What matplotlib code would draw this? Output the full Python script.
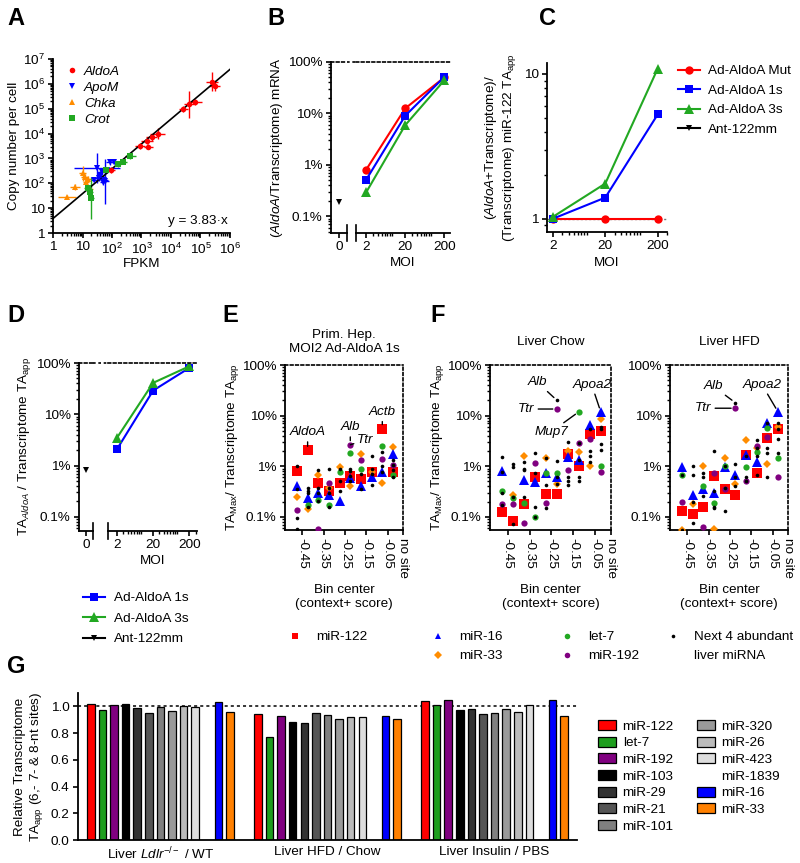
import numpy as np
import matplotlib
matplotlib.use('Agg')
import matplotlib.pyplot as plt
from matplotlib.lines import Line2D
from matplotlib.patches import Patch
from matplotlib.ticker import FuncFormatter, LogLocator, NullFormatter, NullLocator

plt.rcParams['font.family'] = ['Liberation Sans', 'DejaVu Sans']
plt.rcParams['mathtext.fontset'] = 'custom'
plt.rcParams['mathtext.rm'] = 'Liberation Sans'
plt.rcParams['mathtext.it'] = 'Liberation Sans:italic'
plt.rcParams['mathtext.bf'] = 'Liberation Sans:bold'
plt.rcParams['font.size'] = 9.7
plt.rcParams['axes.linewidth'] = 1.3
for a in ('xtick', 'ytick'):
    plt.rcParams[a + '.major.width'] = 1.2
    plt.rcParams[a + '.minor.width'] = 1.0
    plt.rcParams[a + '.major.size'] = 3.5
    plt.rcParams[a + '.minor.size'] = 2.0
    plt.rcParams[a + '.major.pad'] = 2.5

nan = np.nan

# ---------------- data ----------------
# A: copy number vs FPKM (x/y error given as multiplicative factors)
aldoa_fpkm = [2.4e5, 3.0e5, 6.5e4, 4.0e4, 2.6e4, 3.5e3, 2.2e3, 1.5e3, 9.0e2, 1.7e3, 95]
aldoa_copy = [1.2e6, 8.5e5, 1.9e5, 1.5e5, 9.5e4, 1.0e4, 7.0e3, 5.0e3, 3.2e3, 3.0e3, 350]
aldoa_xf = [1.6, 1.5, 1.7, 1.5, 1.4, 1.8, 1.5, 1.6, 1.5, 1.4, 1.3]
aldoa_yf = [2.4, 1.6, 1.3, 3.6, 1.3, 1.6, 1.4, 1.3, 1.3, 1.3, 1.3]
apom_fpkm = [30, 45, 60, 25, 50, 85, 120, 40, 70, 35, 55]
apom_copy = [400, 280, 120, 140, 110, 700, 720, 200, 330, 160, 130]
apom_xf = [6.0, 1.4, 1.3, 1.3, 1.3, 1.4, 1.3, 1.3, 1.5, 1.3, 1.3]
apom_yf = [4.0, 1.3, 8.0, 1.3, 1.3, 1.3, 1.2, 1.5, 1.3, 1.3, 1.3]
chka_fpkm = [3.0, 5.5, 10, 13, 15, 18, 12]
chka_copy = [27, 72, 250, 110, 150, 60, 180]
chka_xf = [2.0, 1.5, 1.3, 1.3, 1.3, 1.3, 1.3]
chka_yf = [1.2, 1.3, 2.0, 1.5, 1.3, 1.3, 1.3]
crot_fpkm = [15, 18, 20, 65, 230, 420, 160]
crot_copy = [65, 45, 25, 330, 750, 1200, 600]
crot_xf = [1.3, 1.3, 1.2, 1.3, 1.4, 1.5, 1.3]
crot_yf = [1.3, 1.5, 7.0, 1.3, 1.3, 1.3, 1.3]
fit_slope = 3.83

# B, C, D: MOI series
moi = [2, 20, 200]
b_mut = [0.8, 12.5, 50]
b_1s = [0.51, 9.0, 51]
b_3s = [0.29, 5.9, 44]
b_ant = [0.19]
c_mut = [1.0, 1.0, 1.0]
c_1s = [1.0, 1.40, 5.26]
c_3s = [1.03, 1.75, 10.9]
d_1s = [2.1, 29, 80]
d_3s = [3.5, 41, 86]
d_ant = [0.81]

# E/F: TA_Max / transcriptome TA_app (%) per context+ bin
bins = [-0.475, -0.425, -0.375, -0.325, -0.275, -0.225, -0.175, -0.125, -0.075, -0.025]
bin_ticks = [-0.45, -0.35, -0.25, -0.15, -0.05, 0.022]
bin_labels = ['-0.45', '-0.35', '-0.25', '-0.15', '-0.05', 'no site']

hep_mir122 = [0.82, 2.05, 0.47, 0.33, 0.47, 0.63, 0.55, 0.78, 5.5, 0.78]
hep_mir16 = [0.40, 0.24, 0.30, 0.27, 0.21, 0.58, 0.41, 0.62, 0.78, 1.75]
hep_mir33 = [0.25, 0.14, 0.68, 0.38, 0.95, 0.40, 1.75, 0.76, 0.47, 2.4]
hep_let7 = [nan, 0.17, 0.22, 0.17, 0.76, 1.8, 0.88, nan, 2.5, 0.66]
hep_mir192 = [0.135, nan, 0.058, 0.46, nan, 2.65, 1.3, nan, 1.4, 1.05]
hep_next4 = [[1.03, 0.36, 0.097, 0.057], [0.38, 0.33, 0.29, 0.16], [0.83, 0.38, 0.30, 0.21],
             [0.89, 0.38, 0.30, 0.155], [0.89, 0.50, 0.33, nan], [0.89, 0.80, 0.65, 0.50],
             [0.70, 0.36, nan, nan], [1.6, 0.88, 0.70, 0.43], [1.9, 1.03, 0.76, nan],
             [1.3, 1.05, 0.83, 0.60]]

chow_mir122 = [0.125, 0.083, 0.18, 0.62, 0.28, 0.28, 1.78, 1.0, 4.4, 4.9]
chow_mir16 = [0.80, nan, 0.53, 0.49, 0.72, 0.60, 1.5, 1.3, 6.5, 11.9]
chow_mir33 = [nan, 0.27, 1.58, nan, 1.43, 0.45, 2.0, 1.9, 1.0, 8.4]
chow_let7 = [0.32, 0.24, 0.19, 0.098, 0.72, 0.72, nan, 11.9, nan, 1.0]
chow_mir192 = [0.18, 0.18, 0.076, 1.14, 0.19, 13.5, 0.83, 2.9, 3.5, 0.78]
chow_next4 = [[1.49, 0.78, 0.30, 0.17], [1.1, 0.98, 0.25, 0.071], [1.2, 0.9, 0.85, 0.25],
              [1.8, 0.75, 0.155, 0.098], [1.43, 0.42, 0.15, nan], [20.0, 1.25, 0.45, 0.60],
              [3.0, 0.60, 0.50, 0.42], [2.9, 1.3, 0.60, 0.50], [5.5, 2.0, 1.6, 1.2],
              [6.0, 5.5, 2.7, 2.1]]

hfd_mir122 = [0.13, 0.115, 0.16, 0.64, 0.35, 0.27, 1.7, 0.75, 3.6, 5.4]
hfd_mir16 = [0.97, 0.27, 0.36, 0.30, 0.97, 0.66, 1.7, 1.2, 7.2, 11.9]
hfd_mir33 = [0.056, 0.18, 1.0, 0.057, 1.48, 0.45, 3.3, 2.3, 1.1, 6.0]
hfd_let7 = [0.68, nan, 0.40, 0.19, 1.0, nan, 0.95, 1.9, 5.6, 1.44]
hfd_mir192 = [0.20, nan, 0.063, 0.72, 0.36, 14.0, 0.50, 2.5, 3.7, 0.60]
hfd_next4 = [[0.66, 0.056, nan, nan], [1.0, 0.67, 0.20, 0.075], [0.72, 0.62, 0.26, nan],
             [2.0, 0.33, 0.15, 0.16], [1.0, 0.38, 0.13, nan], [18.0, 1.1, 0.62, 0.40],
             [0.62, 0.50, 1.6, nan], [3.3, 2.3, 1.6, 0.66], [7.2, 2.3, 1.8, 0.60],
             [7.0, 5.5, 3.5, 1.8]]

# G: relative transcriptome TA_app
g_mirnas = ['miR-122', 'let-7', 'miR-192', 'miR-103', 'miR-29', 'miR-21', 'miR-101',
            'miR-320', 'miR-26', 'miR-423', 'miR-1839', 'miR-16', 'miR-33']
g_colors = ['#ff0000', '#1e9e1e', '#800080', '#000000', '#333333', '#555555', '#808080',
            '#9a9a9a', '#bbbbbb', '#dddddd', 'none', '#0000ff', '#ff8000']
g_groups = [r'Liver $\mathit{Ldlr}^{-/-}$ / WT', 'Liver HFD / Chow', 'Liver Insulin / PBS']
g_ldlr = [1.02, 0.975, 1.007, 1.02, 0.988, 0.953, 0.995, 0.965, 1.005, 0.995, nan, 1.03, 0.955]
g_hfd = [0.945, 0.771, 0.925, 0.883, 0.878, 0.953, 0.938, 0.905, 0.923, 0.923, nan, 0.93, 0.908]
g_ins = [1.037, 1.01, 1.045, 0.97, 0.983, 0.94, 0.95, 0.983, 0.958, 1.012, nan, 1.045, 0.928]

RED, BLUE, GREEN, ORANGE, PURPLE = '#ff0000', '#0000ff', '#22a822', '#ff8c00', '#800080'

# ---------------- figure ----------------
W, H = 800, 863
fig = plt.figure(figsize=(W / 100, H / 100), dpi=100)


def px_axes(l, t, r, b):
    return fig.add_axes([l / W, 1 - b / H, (r - l) / W, (b - t) / H])


def clean(ax):
    ax.spines['top'].set_visible(False)
    ax.spines['right'].set_visible(False)


pct = FuncFormatter(lambda v, p: '{:g}%'.format(v))


def pow10(v, p):
    e = int(round(np.log10(v)))
    return '1' if e == 0 else ('10' if e == 1 else r'$10^{%d}$' % e)


def panel_label(x, y, s):
    fig.text(x / W, 1 - y / H, s, fontsize=17, fontweight='bold', va='baseline', ha='left')


def xbreak(ax, x):
    ax.plot([x, x], [-0.045, 0.045], color='k', lw=1.2, transform=ax.transAxes, clip_on=False)


# ---- A ----
axA = px_axes(53, 59, 230, 233)
clean(axA)
axA.set_xscale('log')
axA.set_yscale('log')
series_a = [('AldoA', RED, 'o', aldoa_fpkm, aldoa_copy, aldoa_xf, aldoa_yf),
            ('ApoM', BLUE, 'v', apom_fpkm, apom_copy, apom_xf, apom_yf),
            ('Chka', ORANGE, '^', chka_fpkm, chka_copy, chka_xf, chka_yf),
            ('Crot', GREEN, 's', crot_fpkm, crot_copy, crot_xf, crot_yf)]
handles_a = []
for name, col, mk, fx, cy, xf, yf in series_a:
    fx, cy, xf, yf = map(np.array, (fx, cy, xf, yf))
    axA.errorbar(fx, cy, xerr=[fx - fx / xf, fx * xf - fx], yerr=[cy - cy / yf, cy * yf - cy],
                 fmt=mk, color=col, ms=4, mew=0, capsize=2, elinewidth=1, capthick=1)
    handles_a.append(Line2D([], [], ls='none', marker=mk, color=col, ms=4, mew=0, label=name))
xs = np.array([1.0, 1e6])
axA.plot(xs, fit_slope * xs, 'k-', lw=1.2)
axA.set_xlim(1, 1e6)
axA.set_ylim(1, 1e7)
axA.set_xticks([10 ** k for k in range(7)])
axA.set_yticks([10 ** k for k in range(8)])
axA.xaxis.set_major_formatter(FuncFormatter(pow10))
axA.yaxis.set_major_formatter(FuncFormatter(pow10))
axA.xaxis.set_minor_locator(LogLocator(subs=range(2, 10), numticks=20))
axA.yaxis.set_minor_locator(LogLocator(subs=range(2, 10), numticks=20))
axA.xaxis.set_minor_formatter(NullFormatter())
axA.yaxis.set_minor_formatter(NullFormatter())
axA.set_xlabel('FPKM', labelpad=1)
axA.set_ylabel('Copy number per cell', labelpad=2)
axA.text(0.985, 0.07, u'y = 3.83\u00b7x', transform=axA.transAxes, ha='right', va='center')
axA.legend(handles=handles_a, loc='upper left', frameon=False, prop={'style': 'italic', 'size': 9.7},
           handletextpad=0.4, labelspacing=0.25, handlelength=1.0, borderaxespad=0.1,
           bbox_to_anchor=(0.03, 1.0))


# ---- helpers for broken MOI axes ----
def moi_axes(l0, r0, l1, r1, t, b, ylim, xlim1):
    ax0 = px_axes(l0, t, r0, b)
    ax1 = px_axes(l1, t, r1, b)
    for ax in (ax0, ax1):
        clean(ax)
        ax.set_yscale('log')
        ax.set_ylim(*ylim)
        ax.spines['top'].set_visible(True)
        ax.spines['top'].set_linestyle((0, (1.6, 1.6)))
        ax.spines['top'].set_linewidth(1.2)
    ax0.set_xlim(-1, 1)
    ax0.set_xticks([0])
    ax0.set_xticklabels(['0'])
    ax0.set_yticks([0.1, 1, 10, 100])
    ax0.yaxis.set_major_formatter(pct)
    ax0.yaxis.set_minor_locator(LogLocator(subs=range(2, 10), numticks=20))
    ax0.yaxis.set_minor_formatter(NullFormatter())
    ax1.spines['left'].set_visible(False)
    ax1.yaxis.set_major_locator(NullLocator())
    ax1.yaxis.set_minor_locator(NullLocator())
    ax1.set_xscale('log')
    ax1.set_xlim(*xlim1)
    ax1.set_xticks(moi)
    ax1.set_xticklabels([str(m) for m in moi])
    ax1.xaxis.set_minor_locator(LogLocator(subs=range(2, 10), numticks=20))
    ax1.xaxis.set_minor_formatter(NullFormatter())
    xbreak(ax0, 1.0)
    xbreak(ax1, 0.0)
    fig.add_artist(Line2D([r0 / W, l1 / W], [1 - t / H, 1 - t / H], color='k', lw=1.2,
                          ls=(0, (1.6, 1.6))))
    ax1.set_xlabel('MOI', labelpad=3)
    return ax0, ax1


# ---- B ----
axB0, axB1 = moi_axes(331, 347, 356, 450, 62, 233, (0.047, 100), (1.1, 280))
axB1.plot(moi, b_mut, '-o', color=RED, lw=1.5, ms=6, mew=0)
axB1.plot(moi, b_1s, '-s', color=BLUE, lw=1.5, ms=6, mew=0)
axB1.plot(moi, b_3s, '-^', color=GREEN, lw=1.5, ms=6.5, mew=0)
axB0.plot([0], b_ant, 'v', color='k', ms=5, mew=0)
axB0.set_ylabel(r'($\mathit{AldoA}$/Transcriptome) mRNA', labelpad=2)

# ---- C ----
axC = px_axes(547, 63, 667, 232)
clean(axC)
axC.set_xscale('log')
axC.set_yscale('log')
axC.axhline(1, color='#777777', lw=1, ls=(0, (1.5, 1.5)), zorder=0)
lc = []
lc += axC.plot(moi, c_mut, '-o', color=RED, lw=1.5, ms=6, mew=0, label='Ad-AldoA Mut')
lc += axC.plot(moi, c_1s, '-s', color=BLUE, lw=1.5, ms=6, mew=0, label='Ad-AldoA 1s')
lc += axC.plot(moi, c_3s, '-^', color=GREEN, lw=1.5, ms=6.5, mew=0, label='Ad-AldoA 3s')
lc.append(Line2D([], [], color='k', marker='v', lw=1.5, ms=5, mew=0, label='Ant-122mm'))
axC.set_xlim(1.55, 300)
axC.set_ylim(0.81, 11.9)
axC.set_xticks(moi)
axC.set_xticklabels([str(m) for m in moi])
axC.xaxis.set_minor_locator(LogLocator(subs=range(2, 10), numticks=20))
axC.xaxis.set_minor_formatter(NullFormatter())
axC.set_yticks([1, 10])
axC.set_yticklabels(['1', '10'])
axC.yaxis.set_minor_formatter(NullFormatter())
axC.set_xlabel('MOI', labelpad=3)
axC.set_ylabel('($\\mathit{AldoA}$+Transcriptome)/\n(Transcriptome) miR-122 TA$_{\\mathrm{app}}$',
               labelpad=4)
fig.legend(handles=lc, loc='upper left', bbox_to_anchor=(678 / W, 1 - 65 / H), frameon=False,
           borderpad=0, borderaxespad=0, handlelength=1.6, handletextpad=0.6, labelspacing=0.52)

# ---- D ----
axD0, axD1 = moi_axes(79, 93, 108, 197, 363, 531, (0.053, 100), (1.12, 330))
ld = []
ld += axD1.plot(moi, d_1s, '-s', color=BLUE, lw=1.5, ms=6, mew=0, label='Ad-AldoA 1s')
ld += axD1.plot(moi, d_3s, '-^', color=GREEN, lw=1.5, ms=6.5, mew=0, label='Ad-AldoA 3s')
axD0.plot([0], d_ant, 'v', color='k', ms=5, mew=0)
ld.append(Line2D([], [], color='k', marker='v', lw=1.5, ms=5, mew=0, label='Ant-122mm'))
axD0.set_ylabel('TA$_{\\mathit{AldoA}}$ / Transcriptome TA$_{\\mathrm{app}}$', labelpad=2)
fig.legend(handles=ld, loc='upper left', bbox_to_anchor=(83 / W, 1 - 592 / H), frameon=False,
           borderpad=0, borderaxespad=0, handlelength=1.6, handletextpad=0.7, labelspacing=0.6)


# ---- E / F ----
def site_panel(box, s122, s16, s33, slet7, s192, snext, title, ylabel):
    ax = px_axes(*box)
    ax.set_yscale('log')
    ax.set_ylim(0.055, 100)
    ax.set_xlim(-0.531, 0.022)
    for sp in ('top', 'right'):
        ax.spines[sp].set_linestyle((0, (1.6, 1.6)))
        ax.spines[sp].set_linewidth(1.2)
    ax.plot(bins, s122, 's', color=RED, ms=6.5, mew=0, zorder=3)
    ax.plot(bins, s33, 'D', color=ORANGE, ms=4.5, mew=0, zorder=3)
    ax.plot(bins, s16, '^', color=BLUE, ms=6.5, mew=0, zorder=3)
    ax.plot(bins, slet7, 'o', color=GREEN, ms=4.5, mew=0, zorder=3)
    ax.plot(bins, s192, 'o', color=PURPLE, ms=4.5, mew=0, zorder=3)
    for j in range(4):
        ax.plot(bins, [c[j] for c in snext], 'o', color='k', ms=2.6, mew=0, zorder=4)
    ax.set_yticks([0.1, 1, 10, 100])
    ax.yaxis.set_major_formatter(pct)
    ax.yaxis.set_minor_locator(LogLocator(subs=range(2, 10), numticks=20))
    ax.yaxis.set_minor_formatter(NullFormatter())
    ax.set_xticks(bin_ticks)
    ax.set_xticklabels(bin_labels, rotation=270)
    ax.set_xlabel('Bin center\n(context+ score)', linespacing=1.15)
    ax.xaxis.set_label_coords(0.5, -0.33)
    ax.text(0.5, 1.139, title, transform=ax.transAxes, ha='center', va='center', linespacing=1.2)
    if ylabel:
        ax.set_ylabel('TA$_{\\mathrm{Max}}$/ Transcriptome TA$_{\\mathrm{app}}$', labelpad=1)
    return ax


ann = dict(arrowstyle='-', lw=1.0, color='k', shrinkA=0.5, shrinkB=3)
axE = site_panel((285, 365, 403, 530), hep_mir122, hep_mir16, hep_mir33, hep_let7, hep_mir192,
                 hep_next4, 'Prim. Hep.\nMOI2 Ad-AldoA 1s', True)
axE.annotate('AldoA', (bins[1], hep_mir122[1]), xytext=(0, 13), textcoords='offset points',
             ha='center', va='center', style='italic', arrowprops=ann)
axE.annotate('Alb', (bins[5], hep_mir192[5]), xytext=(0, 12.5), textcoords='offset points',
             ha='center', va='center', style='italic', arrowprops=ann)
axE.annotate('Ttr', (bins[5], hep_mir192[5]), xytext=(5, 3.5), textcoords='offset points',
             ha='left', va='center', style='italic', arrowprops=ann)
axE.annotate('Actb', (bins[8], hep_mir122[8]), xytext=(0, 12), textcoords='offset points',
             ha='center', va='center', style='italic', arrowprops=ann)

axF1 = site_panel((490, 365, 611, 530), chow_mir122, chow_mir16, chow_mir33, chow_let7, chow_mir192,
                  chow_next4, 'Liver Chow', True)
axF1.annotate('Alb', (bins[5], chow_next4[5][0]), xytext=(-14, 13), textcoords='offset points',
              ha='center', va='center', style='italic', arrowprops=ann)
axF1.annotate('Ttr', (bins[5], chow_mir192[5]), xytext=(-16, 0), textcoords='offset points',
              ha='right', va='center', style='italic', arrowprops=ann)
axF1.annotate('Mup7', (bins[7], chow_let7[7]), xytext=(-20, -14.5), textcoords='offset points',
              ha='center', va='center', style='italic', arrowprops=ann)
axF1.annotate('Apoa2', (bins[9], chow_mir16[9]), xytext=(-6.5, 19.5), textcoords='offset points',
              ha='center', va='center', style='italic', arrowprops=ann)

axF2 = site_panel((670, 365, 788, 530), hfd_mir122, hfd_mir16, hfd_mir33, hfd_let7, hfd_mir192,
                  hfd_next4, 'Liver HFD', False)
axF2.annotate('Alb', (bins[5], hfd_next4[5][0]), xytext=(-16, 12), textcoords='offset points',
              ha='center', va='center', style='italic', arrowprops=ann)
axF2.annotate('Ttr', (bins[5], hfd_mir192[5]), xytext=(-17, 0), textcoords='offset points',
              ha='right', va='center', style='italic', arrowprops=ann)
axF2.annotate('Apoa2', (bins[9], hfd_mir16[9]), xytext=(-11.5, 19.5), textcoords='offset points',
              ha='center', va='center', style='italic', arrowprops=ann)

# E/F marker legend (four columns placed side by side)
ef_kw = dict(loc='upper left', frameon=False, borderpad=0, borderaxespad=0, handlelength=1.0,
             handletextpad=1.1, labelspacing=0.48)
fig.legend(handles=[Line2D([], [], ls='none', marker='s', color=RED, ms=5, mew=0, label='miR-122')],
           bbox_to_anchor=(288 / W, 1 - 631 / H), **ef_kw)
fig.legend(handles=[Line2D([], [], ls='none', marker='^', color=BLUE, ms=5, mew=0, label='miR-16'),
                    Line2D([], [], ls='none', marker='D', color=ORANGE, ms=4, mew=0, label='miR-33')],
           bbox_to_anchor=(431 / W, 1 - 631 / H), **ef_kw)
fig.legend(handles=[Line2D([], [], ls='none', marker='o', color=GREEN, ms=4, mew=0, label='let-7'),
                    Line2D([], [], ls='none', marker='o', color=PURPLE, ms=4, mew=0, label='miR-192')],
           bbox_to_anchor=(560 / W, 1 - 631 / H), **ef_kw)
fig.legend(handles=[Line2D([], [], ls='none', marker='o', color='k', ms=2.6, mew=0, label='Next 4 abundant'),
                    Line2D([], [], ls='none', marker='none', label='liver miRNA')],
           bbox_to_anchor=(666 / W, 1 - 631 / H), **ef_kw)

# ---- G ----
axG = px_axes(78, 693, 577, 840)
clean(axG)
gap = 14.4
for g, vals in enumerate([g_ldlr, g_hfd, g_ins]):
    for i, v in enumerate(vals):
        if np.isnan(v):
            continue
        axG.bar(g * gap + i, v, width=0.65, color=g_colors[i], edgecolor='k', linewidth=0.9)
axG.axhline(1.0, color='k', lw=1.1, ls=(0, (2, 2)), zorder=0)
axG.set_xlim(-1.1, 41.9)
axG.set_ylim(0, 1.1)
axG.set_yticks(np.arange(0, 1.01, 0.2))
axG.yaxis.set_major_formatter(FuncFormatter(lambda v, p: '%.1f' % v))
axG.set_xticks([g * gap + 6 for g in range(3)])
axG.set_xticklabels(g_groups)
axG.tick_params(axis='x', length=0, pad=4)
axG.set_ylabel('Relative Transcriptome\nTA$_{\\mathrm{app}}$ (6,- 7- & 8-nt sites)', labelpad=4,
               linespacing=1.2)
g_handles = [Patch(facecolor=c, edgecolor=('k' if c != 'none' else 'none'), linewidth=0.9, label=m)
             for m, c in zip(g_mirnas, g_colors)]
fig.legend(handles=g_handles, ncol=2, loc='upper left', bbox_to_anchor=(598 / W, 1 - 720 / H),
           frameon=False, borderpad=0, borderaxespad=0, handlelength=1.33, handleheight=0.75,
           handletextpad=0.5, labelspacing=0.3, columnspacing=1.7)

# panel letters
for x, y, s in [(7, 25, 'A'), (267, 25, 'B'), (539, 25, 'C'), (7, 322, 'D'),
                (222, 322, 'E'), (430, 322, 'F'), (7, 673, 'G')]:
    panel_label(x, y, s)

fig.savefig('out.png', dpi=100)
